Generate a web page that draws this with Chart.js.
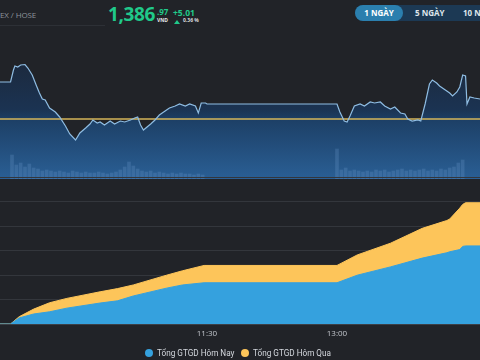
<!DOCTYPE html>
<html>
<head>
<meta charset="utf-8">
<script src="https://cdn.jsdelivr.net/npm/chart.js@4.4.0/dist/chart.umd.min.js"></script>
<style>
html, body { margin: 0; padding: 0; background: #212328; width: 480px; height: 360px; overflow: hidden; font-family: "Open Sans", sans-serif; }
#wrap { position: relative; width: 480px; height: 360px; overflow: hidden; }
.abs { position: absolute; white-space: nowrap; }
.green { color: #20c98a; font-weight: 700; }
.tabs { left: 355px; top: 5px; width: 140px; height: 16px; border-radius: 8px; background: #1c3954; }
.tab { top: 5px; height: 16px; line-height: 16px; font-size: 8px; font-weight: 700; color: #dfe6ec; text-align: center; }
.tab.on { left: 355px; width: 48px; border-radius: 8px; background: #2b7fae; color: #fff; }
.legend { top: 347px; font-family: Roboto, sans-serif; font-size: 8.2px; color: #d4d8de; line-height: 12px; }
.dot { display: inline-block; width: 8px; height: 8px; border-radius: 50%; vertical-align: -1px; margin-right: 4px; }
</style>
</head>
<body>
<div id="wrap">
  <div class="abs" style="left:0;top:9px;font-size:8px;letter-spacing:-0.1px;color:#8d939b;">EX / HOSE</div>
  <div class="abs" style="left:0;top:25px;width:105px;height:1px;background:#2d3036;"></div>

  <div class="abs green" style="left:108px;top:1px;font-size:19px;letter-spacing:-0.4px;">1,386</div>
  <div class="abs green" style="left:157px;top:6px;font-size:8px;">.97</div>
  <div class="abs" style="left:157px;top:17px;font-size:5px;font-weight:700;color:#e6e8ea;">VND</div>
  <div class="abs green" style="left:173px;top:7px;font-size:8.5px;">+5.01</div>
  <div class="abs" style="left:174px;top:20px;width:0;height:0;border-left:3px solid transparent;border-right:3px solid transparent;border-bottom:4px solid #20c98a;"></div>
  <div class="abs" style="left:183px;top:17px;font-size:5px;font-weight:700;color:#d6d9dc;">0.36 %</div>

  <div class="abs tabs"></div>
  <div class="abs tab on">1 NGÀY</div>
  <div class="abs tab" style="left:415px;">5 NGÀY</div>
  <div class="abs tab" style="left:463px;">10 NGÀY</div>

  <canvas id="priceChart" class="abs" width="480" height="139" style="left:0;top:40px;"></canvas>
  <canvas id="flowChart" class="abs" width="480" height="170" style="left:0;top:170px;"></canvas>

  <div class="abs legend" style="left:145px;"><span class="dot" style="background:#35a1de"></span>Tổng GTGD Hôm Nay</div>
  <div class="abs legend" style="left:241px;"><span class="dot" style="background:#fdc55a"></span>Tổng GTGD Hôm Qua</div>
</div>

<script>
// giá tham chiếu
const refPrice = 1381.96;

// VNINDEX trong ngày
const priceTimes = ['09:00','09:14','09:16','09:17','09:19','09:21','09:24','09:26','09:29','09:32','09:34','09:36','09:38','09:41','09:45','09:48','09:52','09:55','09:59',
  '10:02','10:06','10:09','10:11','10:14','10:16','10:19','10:23','10:26','10:30','10:33','10:37','10:40','10:42','10:44','10:46','10:51','10:54','10:57',
  '11:01','11:04','11:08','11:11','11:15','11:18','11:22','11:24','11:26','11:29','11:30',
  '13:00','13:02','13:05','13:07','13:09','13:12','13:16','13:19','13:23','13:26','13:30','13:33','13:37','13:40','13:44','13:47','13:49','13:52','13:56','13:58',
  '14:01','14:04','14:06','14:09','14:11','14:15','14:18','14:20','14:23','14:25','14:27','14:29','14:30','14:32','14:35','14:39','14:45'];
const priceValues = [1391.70,1391.70,1394.85,1395.91,1395.64,1396.17,1396.30,1395.38,1393.54,1390.64,1388.80,1387.22,1386.96,1384.85,1383.80,1382.49,1380.12,1378.01,1376.43,
  1378.28,1379.59,1380.64,1381.70,1380.91,1381.17,1380.38,1381.43,1380.64,1381.43,1381.17,1381.70,1382.22,1382.49,1380.38,1379.07,1380.64,1381.70,1383.01,
  1384.07,1384.85,1385.38,1385.91,1385.38,1385.91,1385.38,1383.54,1386.17,1386.17,1385.91,
  1385.91,1383.80,1381.43,1381.17,1382.75,1385.38,1385.91,1385.38,1386.43,1386.17,1386.43,1385.38,1384.59,1385.12,1383.54,1383.28,1381.96,1381.43,1381.70,1381.43,
  1385.91,1391.17,1392.22,1391.43,1390.64,1389.59,1388.80,1388.01,1389.07,1390.38,1393.54,1393.28,1385.91,1387.75,1387.49,1387.22,1386.97];

// khối lượng khớp lệnh
const volTimes = ['09:15','09:18','09:21','09:24','09:27','09:30','09:33','09:36','09:39','09:42','09:45','09:48','09:51','09:54','09:57',
  '10:00','10:03','10:06','10:09','10:12','10:15','10:18','10:21','10:24','10:27','10:30','10:33','10:36','10:39','10:42','10:45','10:48','10:51','10:54','10:57',
  '11:00','11:03','11:06','11:09','11:12','11:15','11:18','11:21','11:24','11:27',
  '13:00','13:03','13:06','13:09','13:12','13:15','13:18','13:21','13:24','13:27','13:30','13:33','13:36','13:39','13:42','13:45','13:48','13:51','13:54','13:57',
  '14:00','14:03','14:06','14:09','14:12','14:15','14:18','14:21','14:24','14:27'];
const volValues = [24,14,16,12,15,11,10,8,9,8,7,8,7,6,8,
  7,6,7,6,6,7,6,5,6,7,9,12,17,13,10,8,7,8,6,7,
  6,5,6,5,6,5,5,4,5,4,
  30,9,11,8,9,8,7,8,7,9,8,9,7,8,9,10,8,9,8,9,
  10,8,9,8,10,9,11,12,16,19];

// tổng GTGD lũy kế
const flowTimes = ['09:00','09:14','09:20','09:30','09:41','09:53','10:16','10:28','10:39','11:02','11:13','11:28','13:00','13:14','13:37','13:59','14:16','14:18','14:25','14:27','14:29','14:45'];
const todayValues = [0,0,0.25,0.41,0.5,0.65,0.86,0.95,1.15,1.47,1.6,1.69,1.69,2.0,2.34,2.7,2.92,2.96,3.05,3.18,3.2,3.2];
const yesterdayValues = [0,0,0.3,0.61,0.87,1.05,1.32,1.45,1.6,2.0,2.18,2.4,2.4,2.83,3.31,3.92,4.24,4.3,4.75,4.9,4.97,4.97];

const tickTimes = ['11:30','13:00'];
const seriesNames = ['Tổng GTGD Hôm Nay', 'Tổng GTGD Hôm Qua'];

function toMin(s) {
    let p = s.split(':');
    return parseInt(p[0]) * 60 + parseInt(p[1]);
}
function toLabel(v) {
    let h = Math.floor(v / 60), m = Math.round(v % 60);
    return h + ':' + ('0' + m).slice(-2);
}
function pairs(times, values) {
    return times.map((t, i) => ({ x: toMin(t), y: values[i] }));
}

const xMin = 546.7, xMax = 879;

function areaGradient(context) {
    const chart = context.chart;
    const area = chart.chartArea;
    if (!area) return 'rgba(30,70,110,0.8)';
    let g = chart.ctx.createLinearGradient(0, area.top, 0, area.bottom);
    g.addColorStop(0, '#1c2534');
    g.addColorStop(0.5, '#1b3352');
    g.addColorStop(0.58, '#1d4067');
    g.addColorStop(1, '#2a5f95');
    return g;
}

new Chart(document.getElementById('priceChart'), {
    type: 'line',
    data: {
        datasets: [
            {
                label: 'VNINDEX',
                data: pairs(priceTimes, priceValues),
                borderColor: '#8fbde3',
                borderWidth: 1.2,
                pointRadius: 0,
                tension: 0,
                fill: 'start',
                backgroundColor: areaGradient,
                order: 1
            },
            {
                label: 'Tham chiếu',
                data: pairs(['09:00', '14:45'], [refPrice, refPrice]),
                borderColor: '#d6b658',
                borderWidth: 1.3,
                pointRadius: 0,
                fill: false,
                order: 2
            },
            {
                type: 'bar',
                label: 'KL',
                data: pairs(volTimes, volValues),
                yAxisID: 'y2',
                backgroundColor: 'rgba(125,170,220,0.22)',
                barThickness: 3,
                order: 3
            }
        ]
    },
    options: {
        responsive: false,
        animation: false,
        events: [],
        layout: { padding: 0 },
        plugins: {
            legend: { display: false },
            tooltip: { enabled: false },
            filler: { drawTime: 'beforeDatasetsDraw' }
        },
        scales: {
            x: { type: 'linear', min: xMin, max: xMax, display: false, offset: false },
            y: { min: 1366.17, max: 1402.75, display: false },
            y2: { min: 0, max: 139, display: false }
        }
    }
});

new Chart(document.getElementById('flowChart'), {
    type: 'line',
    data: {
        datasets: [
            {
                label: seriesNames[0],
                data: pairs(flowTimes, todayValues),
                borderColor: '#35a1de',
                backgroundColor: '#35a1de',
                borderWidth: 1,
                pointRadius: 0,
                fill: 'origin'
            },
            {
                label: seriesNames[1],
                data: pairs(flowTimes, yesterdayValues),
                borderColor: '#fdc55a',
                backgroundColor: '#fdc55a',
                borderWidth: 1,
                pointRadius: 0,
                fill: 'origin'
            }
        ]
    },
    options: {
        responsive: false,
        animation: false,
        events: [],
        layout: { padding: { top: 7.6, left: 0, right: 0, bottom: 0 } },
        plugins: {
            legend: { display: false },
            tooltip: { enabled: false }
        },
        scales: {
            x: {
                type: 'linear',
                min: xMin,
                max: xMax,
                offset: false,
                grid: { display: false, drawTicks: false },
                border: { color: '#3c3f46', width: 1 },
                ticks: {
                    color: '#c3c7cd',
                    font: { size: 8, family: 'Open Sans' },
                    padding: 5,
                    maxRotation: 0,
                    autoSkip: false,
                    callback: (v) => toLabel(v)
                },
                afterBuildTicks: (s) => { s.ticks = tickTimes.map(t => ({ value: toMin(t) })); },
                afterFit: (s) => { s.height = 16; }
            },
            y: {
                min: 0,
                max: 6,
                ticks: { display: false, stepSize: 1 },
                grid: { color: '#33363c', drawTicks: false },
                border: { display: false },
                afterFit: (s) => { s.width = 0; }
            }
        }
    }
});
</script>
</body>
</html>
